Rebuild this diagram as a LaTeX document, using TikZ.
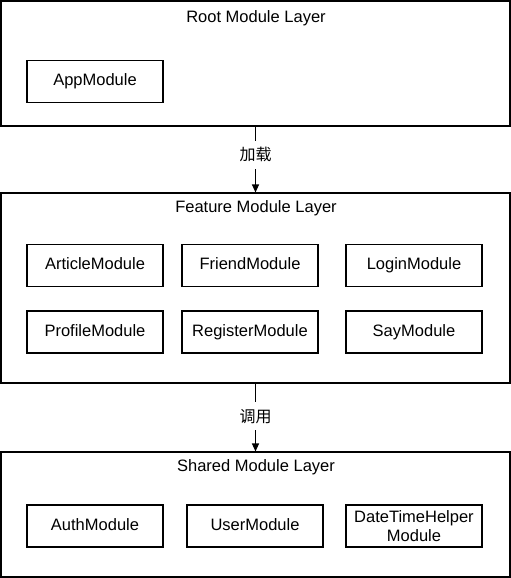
\documentclass[tikz,border=0pt]{standalone}
\usepackage{fontspec}
\setmainfont{Liberation Sans}
\newfontfamily\cjk{Noto Sans CJK SC}
\usetikzlibrary{arrows.meta}
\begin{document}
\begin{tikzpicture}[x=1pt,y=-1pt,
  every node/.style={font=\fontsize{16.5}{18.5}\selectfont},
  layer/.style={draw=black,line width=1.1pt,minimum width=509pt,inner sep=0pt},
  modbox/.style={draw=black,line width=1.1pt,minimum width=136pt,minimum height=42pt,inner sep=0pt,text height=12pt,text depth=3.5pt},
  modbox2/.style={draw=black,line width=1.1pt,minimum width=136pt,minimum height=42pt,inner sep=0pt,align=center},
  ttl/.style={inner sep=0pt,text height=12pt,text depth=3.5pt},
  conn/.style={line width=1.1pt,-{Triangle[length=8pt,width=7pt]}},
  lbl/.style={fill=white,inner sep=7pt,font=\cjk\fontsize{16}{18}\selectfont}]
\useasboundingbox (0,0) rectangle (511,578);
% layers
\node[layer,minimum height=125pt] (root) at (255.5,63.5) {};
\node[layer,minimum height=190pt] (feat) at (255.5,288) {};
\node[layer,minimum height=125pt] (shared) at (255.5,514.5) {};
% titles
\node[ttl] (troot) at (256,18) {Root Module Layer};
\node[ttl] (tfeat) at (256,208) {Feature Module Layer};
\node[ttl] (tshared) at (256,467) {Shared Module Layer};
% modules
\node[modbox] (app) at (95,81.5) {AppModule};
\node[modbox] (article) at (95,265.5) {ArticleModule};
\node[modbox] (friend) at (250,265.5) {FriendModule};
\node[modbox] (login) at (414,265.5) {LoginModule};
\node[modbox] (profile) at (95,332) {ProfileModule};
\node[modbox] (register) at (250,332) {RegisterModule};
\node[modbox] (say) at (414,332) {SayModule};
\node[modbox] (auth) at (95,526) {AuthModule};
\node[modbox] (user) at (255,526) {UserModule};
\node[modbox2] (dth) at (414,526) {DateTimeHelper\\Module};
% connectors
\draw[conn] (root.south) -- node[lbl,pos=0.43] {加载} (feat.north);
\draw[conn] (feat.south) -- node[lbl,pos=0.48] {调用} (shared.north);
\end{tikzpicture}
\end{document}
